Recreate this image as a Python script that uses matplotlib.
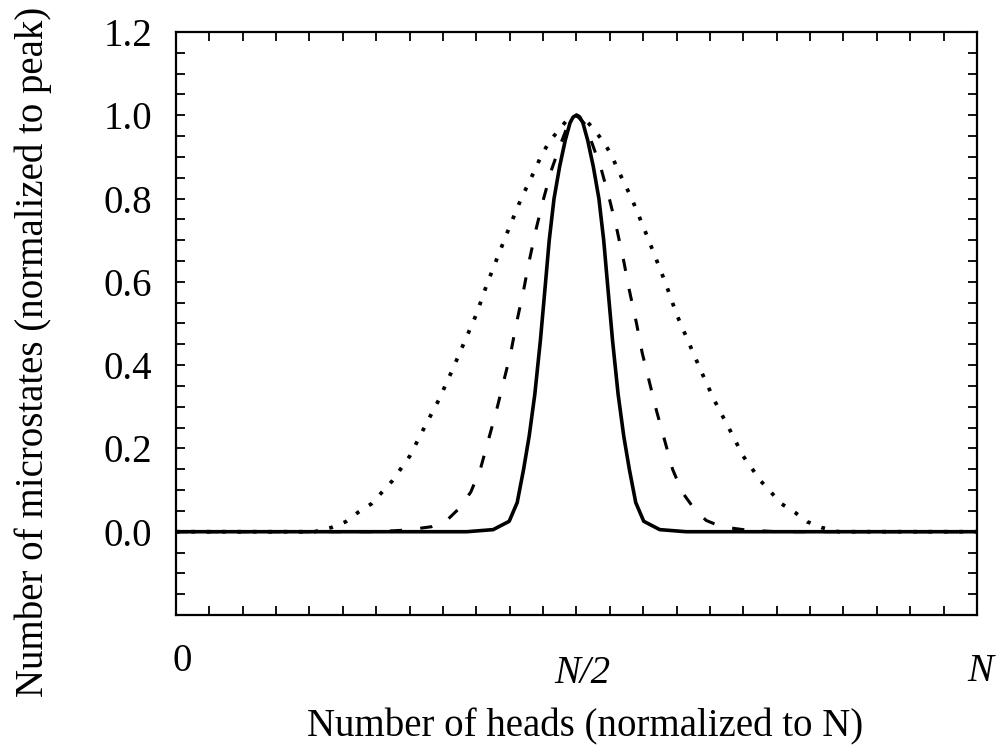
import matplotlib
matplotlib.use("Agg")
import matplotlib.pyplot as plt
from matplotlib.transforms import ScaledTranslation

# ---- data (x in fractions of N, y normalized to peak) ----
solid_x = [0.000, 0.363, 0.396, 0.416, 0.426, 0.434, 0.441, 0.448, 0.455, 0.461, 0.466, 0.472,
           0.479, 0.486, 0.492, 0.496, 0.500,
           0.504, 0.508, 0.514, 0.521, 0.528, 0.534, 0.539, 0.545, 0.552, 0.559, 0.566, 0.574,
           0.584, 0.604, 0.637, 1.000]
solid_y = [0.0, 0.0, 0.005, 0.025, 0.07, 0.15, 0.23, 0.33, 0.46, 0.59, 0.70, 0.80,
           0.877, 0.94, 0.982, 0.996, 1.0,
           0.996, 0.982, 0.94, 0.877, 0.80, 0.70, 0.59, 0.46, 0.33, 0.23, 0.15, 0.07,
           0.025, 0.005, 0.0, 0.0]

dashed_x = [0.000, 0.250, 0.288, 0.319, 0.338, 0.353, 0.368, 0.380, 0.390, 0.400, 0.409, 0.418,
            0.425, 0.434, 0.441, 0.450, 0.459, 0.469, 0.480, 0.490, 0.500,
            0.510, 0.520, 0.531, 0.541, 0.550, 0.559, 0.566, 0.575, 0.582, 0.591, 0.600, 0.610,
            0.620, 0.632, 0.647, 0.662, 0.681, 0.712, 0.750, 1.000]
dashed_y = [0.0, 0.0, 0.004, 0.012, 0.027, 0.055, 0.095, 0.15, 0.22, 0.29, 0.36, 0.43,
            0.50, 0.58, 0.65, 0.73, 0.80, 0.87, 0.93, 0.98, 1.0,
            0.98, 0.93, 0.87, 0.80, 0.73, 0.65, 0.58, 0.50, 0.43, 0.36, 0.29, 0.22,
            0.15, 0.095, 0.055, 0.027, 0.012, 0.004, 0.0, 0.0]

dotted_x = [0.000, 0.173, 0.194, 0.212, 0.227, 0.244, 0.270, 0.292, 0.310, 0.328, 0.344, 0.360,
            0.375, 0.388, 0.402, 0.416, 0.431, 0.448, 0.456, 0.466, 0.478, 0.488, 0.500,
            0.512, 0.522, 0.534, 0.544, 0.552, 0.569, 0.584, 0.598, 0.612, 0.625, 0.640, 0.656,
            0.672, 0.690, 0.708, 0.730, 0.756, 0.773, 0.788, 0.806, 0.827, 1.000]
dotted_y = [0.0, 0.0, 0.01, 0.024, 0.046, 0.067, 0.122, 0.182, 0.25, 0.316, 0.384, 0.455,
            0.522, 0.593, 0.662, 0.73, 0.80, 0.868, 0.903, 0.936, 0.965, 0.988, 1.0,
            0.988, 0.965, 0.936, 0.903, 0.868, 0.80, 0.73, 0.662, 0.593, 0.522, 0.455, 0.384,
            0.316, 0.25, 0.182, 0.122, 0.067, 0.046, 0.024, 0.01, 0.0, 0.0]

x_tick_pos = [0.0, 0.5, 1.0]
x_tick_labels = ["0", "N/2", "N"]
y_label_vals = [0.0, 0.2, 0.4, 0.6, 0.8, 1.0, 1.2]
y_label_text = ["0.0", "0.2", "0.4", "0.6", "0.8", "1.0", "1.2"]
x_label = "Number of heads (normalized to N)"
y_label = "Number of microstates (normalized to peak)"

# ---- figure ----
plt.rcParams["font.family"] = ["Liberation Serif", "DejaVu Serif"]
FS = 28

fig = plt.figure(figsize=(9.97, 7.49), dpi=100)
ax = fig.add_axes([0.1765, 0.1789, 0.8034, 0.7784])

ax.plot(dotted_x, dotted_y, color="black", lw=2.7, dashes=(1.0, 3.1))
ax.plot(dashed_x, dashed_y, color="black", lw=2.2, dashes=(4.0, 6.0))
ax.plot(solid_x, solid_y, color="black", lw=2.6, solid_joinstyle="round")

ax.set_xlim(0, 1)
ax.set_ylim(-0.2, 1.2)

for s in ax.spines.values():
    s.set_linewidth(1.6)

# y ticks: every 0.05, labels at multiples of 0.2
y_ticks = [round(-0.2 + 0.05 * i, 2) for i in range(29)]
ax.set_yticks(y_ticks)
lab = []
for t in y_ticks:
    txt = ""
    for v, s in zip(y_label_vals, y_label_text):
        if abs(t - v) < 1e-6:
            txt = s
    lab.append(txt)
ax.set_yticklabels(lab, fontsize=FS)

# x ticks: minor every 1/24, labelled major at 0, N/2, N
ax.set_xticks(x_tick_pos)
ax.set_xticklabels(x_tick_labels, fontsize=FS)
ax.set_xticks([i / 24 for i in range(25)], minor=True)

ax.tick_params(axis="both", which="both", direction="in", length=6.5, width=1.3,
               top=True, right=True)
ax.tick_params(axis="y", pad=17)

ticks = ax.xaxis.get_major_ticks()
pads = [20, 29, 27]
for tk, p in zip(ticks, pads):
    tk.set_pad(p)
labels = ax.get_xticklabels()
for i, l in enumerate(labels):
    if i > 0:
        l.set_fontstyle("italic")
    dx = [6, 6, 3][i]
    l.set_transform(l.get_transform() + ScaledTranslation(dx / 100, 0, fig.dpi_scale_trans))

ax.set_xlabel(x_label, fontsize=FS)
ax.xaxis.label.set_va("center")
ax.xaxis.set_label_coords(0.511, -0.191)
ax.set_ylabel(y_label, fontsize=FS)
ax.yaxis.label.set_va("center")
ax.yaxis.set_label_coords(-0.1785, 0.451)

fig.savefig("out.png", dpi=100)
